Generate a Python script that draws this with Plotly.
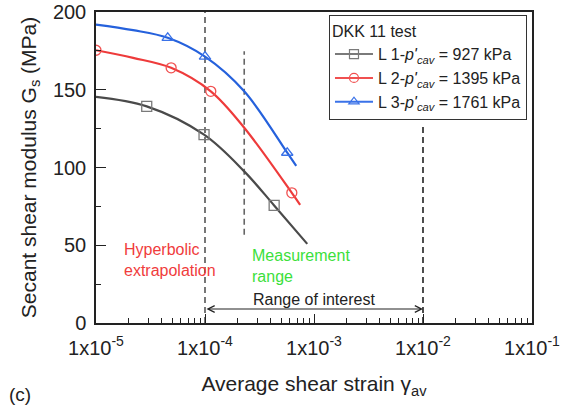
import math
import plotly.graph_objects as go

# curves
l1_x = [1e-5, 2.92e-5, 9.8e-5, 2.29e-4, 4.31e-4, 8.67e-4]
l1_y = [145.4, 139.3, 121.1, 97.5, 75.6, 50.9]
l2_x = [1e-5, 2.19e-5, 4.89e-5, 1.13e-4, 2.29e-4, 6.26e-4, 7.46e-4]
l2_y = [175.4, 170.5, 164.1, 149.0, 125.6, 83.7, 76.0]
l3_x = [1e-5, 2.19e-5, 4.55e-5, 1.0e-4, 2.29e-4, 5.68e-4, 6.87e-4]
l3_y = [191.9, 188.3, 183.4, 171.3, 149.0, 109.5, 101.1]

# measured points (markers)
m1_x = [2.92e-5, 9.8e-5, 4.31e-4]
m1_y = [139.3, 121.1, 75.6]
m2_x = [1e-5, 4.89e-5, 1.13e-4, 6.26e-4]
m2_y = [175.4, 164.1, 149.0, 83.7]
m3_x = [4.55e-5, 1.0e-4, 5.68e-4]
m3_y = [183.4, 171.3, 109.5]

names = ["L 1-<i>p'</i><sub><i>cav</i></sub> = 927 kPa",
         "L 2-<i>p'</i><sub><i>cav</i></sub> = 1395 kPa",
         "L 3-<i>p'</i><sub><i>cav</i></sub> = 1761 kPa"]
colors = ["#4a4a4a", "#ee3b3b", "#2561dc"]
mcolors = ["#7a7a7a", "#f05050", "#3a72e8"]
symbols = ["square-open", "circle-open", "triangle-up-open"]

# vertical dashed guides
guide_x = [1e-4, 2.29e-4, 1e-2]
guide_y0 = [0, 56.7, 0]
guide_y1 = [200, 174.8, 128]
guide_col = ["#555555", "#666666", "#222222"]

xtick_vals = [1e-5, 1e-4, 1e-3, 1e-2, 1e-1]
xtick_text = ["1x10<sup>-5</sup>", "1x10<sup>-4</sup>", "1x10<sup>-3</sup>",
              "1x10<sup>-2</sup>", "1x10<sup>-1</sup>"]
xminor = [m * d for d in xtick_vals[:-1] for m in range(2, 10)]

FONT = "Liberation Sans, Arial, sans-serif"

fig = go.Figure()

for gx, g0, g1, gc in zip(guide_x, guide_y0, guide_y1, guide_col):
    fig.add_trace(go.Scatter(x=[gx, gx], y=[g0, g1], mode="lines",
                             line=dict(color=gc, width=1.6, dash="6px,4px"),
                             showlegend=False, hoverinfo="skip"))

curves = [(l1_x, l1_y, m1_x, m1_y), (l2_x, l2_y, m2_x, m2_y), (l3_x, l3_y, m3_x, m3_y)]
for i, (cx, cy, mx, my) in enumerate(curves):
    fig.add_trace(go.Scatter(x=cx, y=cy, mode="lines", line_shape="spline",
                             line=dict(color=colors[i], width=2.2),
                             showlegend=False))
    fig.add_trace(go.Scatter(x=mx, y=my, mode="markers",
                             marker=dict(symbol=symbols[i], size=10,
                                         color=mcolors[i], line=dict(width=1.3)),
                             showlegend=False))
    # legend entry
    fig.add_trace(go.Scatter(x=[None], y=[None], mode="lines+markers", name=names[i],
                             line=dict(color=mcolors[i], width=2),
                             marker=dict(symbol=symbols[i], size=9,
                                         color=mcolors[i], line=dict(width=1.2))))

# range of interest arrow
fig.add_annotation(x=math.log10(1e-2), y=9, ax=math.log10(1e-4), ay=9,
                   xref="x", yref="y", axref="x", ayref="y", text="",
                   showarrow=True, arrowhead=5, startarrowhead=5, arrowside="end+start",
                   arrowsize=1.1, arrowwidth=1.2, arrowcolor="#222222")

fig.add_annotation(x=-4.761, y=40.6, xref="x", yref="y", xanchor="left", yanchor="middle",
                   text="Hyperbolic<br>extrapolation", showarrow=False, align="left",
                   font=dict(size=16, color="#f03c3c", family=FONT))
fig.add_annotation(x=-3.586, y=36.4, xref="x", yref="y", xanchor="left", yanchor="middle",
                   text="Measurement<br>range", showarrow=False, align="left",
                   font=dict(size=16, color="#3be03b", family=FONT))
fig.add_annotation(x=-3.577, y=14.8, xref="x", yref="y", xanchor="left", yanchor="middle",
                   text="Range of interest", showarrow=False,
                   font=dict(size=16, color="#222222", family=FONT))
fig.add_annotation(x=-0.204, y=-0.229, xref="paper", yref="paper", xanchor="left",
                   yanchor="middle", text="(c)", showarrow=False,
                   font=dict(size=19, color="#222222", family=FONT))

fig.update_layout(
    width=573, height=406,
    margin=dict(l=96, r=41, t=12, b=83, autoexpand=False),
    paper_bgcolor="white", plot_bgcolor="white",
    font=dict(family=FONT, color="#222222", size=20),
    legend=dict(title=dict(text="DKK 11 test", font=dict(size=16)),
                font=dict(size=16), x=0.9885, y=0.989, xanchor="right", yanchor="top",
                bordercolor="#333333", borderwidth=1, bgcolor="white",
                tracegroupgap=0, itemwidth=38),
)
fig.update_xaxes(type="log", range=[-5, -1], tickvals=xtick_vals, ticktext=xtick_text,
                 ticks="inside", ticklen=9, tickwidth=1.2, tickcolor="#222222",
                 ticklabelstandoff=6,
                 minor=dict(tickvals=xminor, ticks="inside", ticklen=5,
                            tickcolor="#222222", tickwidth=1),
                 showline=True, linecolor="#222222", linewidth=1.5, mirror=True,
                 showgrid=False, zeroline=False, automargin=False,
                 title=dict(text="Average shear strain γ<sub>av</sub>",
                            font=dict(size=21), standoff=19))
fig.update_yaxes(range=[0, 200], tickvals=[0, 50, 100, 150, 200],
                 ticks="inside", ticklen=10, tickwidth=1.2, tickcolor="#222222",
                 ticklabelstandoff=4,
                 minor=dict(tickvals=[25, 75, 125, 175], ticks="inside", ticklen=5,
                            tickcolor="#222222"),
                 showline=True, linecolor="#222222", linewidth=1.5, mirror=True,
                 showgrid=False, zeroline=False, automargin=False,
                 title=dict(text="Secant shear modulus G<sub>s</sub> (MPa)",
                            font=dict(size=21), standoff=11))

# page has an 8px default body margin; remove it so the figure sits at the corner
fig.write_html("out.html", config={"displayModeBar": False},
               post_script="document.body.style.margin='0';")
